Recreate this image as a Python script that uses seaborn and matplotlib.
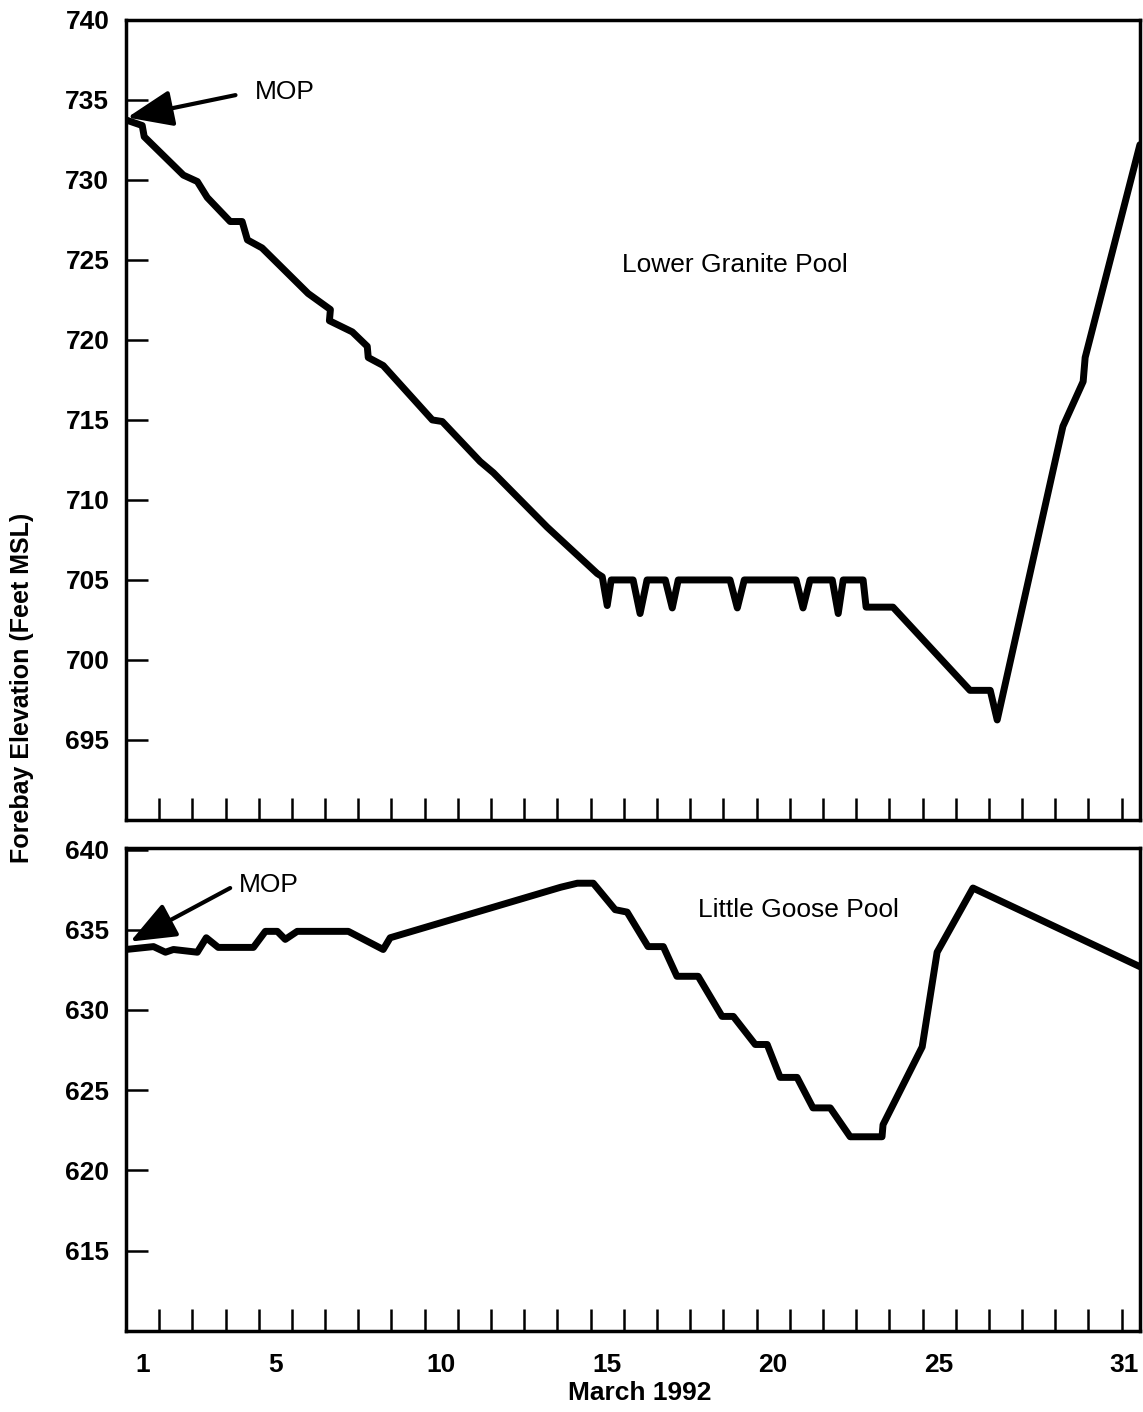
import numpy as np
import pandas as pd
import matplotlib
matplotlib.use('Agg')
import matplotlib.pyplot as plt
import seaborn as sns

# Lower Granite Pool, March 1992 (day of month, forebay elevation ft MSL)
lg_day = [0.5, 0.99, 1.05, 2.23, 2.65, 2.95, 3.64, 4.0, 4.16, 4.6,
          5.99, 6.66, 6.63, 7.32, 7.77, 7.8, 8.25, 9.73, 10.03, 11.17,
          11.57, 13.19, 14.7, 14.85, 15.0, 15.12, 15.78, 15.99, 16.2, 16.75,
          16.96, 17.14, 18.7, 18.92, 19.13, 20.69, 20.9, 21.11, 21.78, 21.96,
          22.11, 22.71, 22.8, 23.61, 25.93, 26.54, 26.75, 28.73, 29.34, 29.4,
          31.05]
lg_elev = [733.75, 733.4, 732.7, 730.3, 729.9, 728.9, 727.4, 727.4, 726.25, 725.75,
           722.9, 721.9, 721.2, 720.5, 719.6, 718.9, 718.4, 715.0, 714.9, 712.4,
           711.7, 708.3, 705.4, 705.2, 703.4, 705.0, 705.0, 702.9, 705.0, 705.0,
           703.25, 705.0, 705.0, 703.25, 705.0, 705.0, 703.25, 705.0, 705.0, 702.9,
           705.0, 705.0, 703.3, 703.3, 698.1, 698.1, 696.25, 714.6, 717.4, 718.9,
           732.2]

# Little Goose Pool
gs_day = [0.5, 1.33, 1.69, 1.93, 2.65, 2.92, 3.28, 4.34, 4.7, 5.06,
          5.3, 5.66, 7.2, 8.25, 8.46, 13.6, 14.1, 14.58, 15.24, 15.6, 16.23,
          16.69, 17.1, 17.74, 18.46, 18.8, 19.46, 19.82, 20.21, 20.72, 21.2,
          21.72, 22.32, 23.28, 23.31, 24.49, 24.94, 26.02, 31.05]
gs_elev = [633.77, 633.95, 633.6, 633.77, 633.6, 634.5, 633.9, 633.9, 634.9, 634.9,
           634.4, 634.9, 634.9, 633.77, 634.5, 637.65, 637.9, 637.9, 636.25, 636.1, 633.95,
           633.95, 632.1, 632.1, 629.6, 629.6, 627.85, 627.85, 625.8, 625.8, 623.9,
           623.9, 622.1, 622.1, 622.85, 627.7, 633.6, 637.6, 632.7]

day_labels = [1, 5, 10, 15, 20, 25, 31]
minor_days = np.arange(1.5, 31, 1.0)

sns.set_style("white")
plt.rcParams['font.family'] = ['Liberation Sans', 'DejaVu Sans']
plt.rcParams['text.color'] = 'black'
plt.rcParams['xtick.color'] = 'black'
plt.rcParams['ytick.color'] = 'black'
plt.rcParams['axes.labelcolor'] = 'black'

fig = plt.figure(figsize=(11.43, 14.12), dpi=100)
ax1 = fig.add_axes([0.1102, 0.4193, 0.8871, 0.5666])
ax2 = fig.add_axes([0.1102, 0.0574, 0.8871, 0.3421])

sns.lineplot(x=lg_day, y=lg_elev, sort=False, estimator=None, color='black', lw=5, ax=ax1)
sns.lineplot(x=gs_day, y=gs_elev, sort=False, estimator=None, color='black', lw=5, ax=ax2)

for ax in (ax1, ax2):
    ax.set_xlim(0.5, 31.05)
    for s in ax.spines.values():
        s.set_color('black')
        s.set_linewidth(2.5)
        s.set_visible(True)
    ax.set_xticks(minor_days, minor=True)
    ax.tick_params(axis='x', which='minor', direction='in', length=16, width=1.8,
                   color='black', bottom=True)
    ax.tick_params(axis='y', which='major', direction='in', length=16, width=1.8,
                   color='black', left=True, labelsize=19, pad=12, labelcolor='black')
    ax.set_xlabel('')
    ax.set_ylabel('')

ax1.set_ylim(690, 740)
ax1.set_yticks(np.arange(695, 741, 5))
ax1.set_xticks([])

ax2.set_ylim(610, 640.1)
ax2.set_yticks(np.arange(615, 641, 5))
ax2.set_xticks(day_labels)
ax2.tick_params(axis='x', which='major', length=0, labelsize=19, pad=16, labelcolor='black')

for ax in (ax1, ax2):
    for lab in ax.get_xticklabels() + ax.get_yticklabels():
        lab.set_fontweight('bold')
ax2.get_xticklabels()[-1].set_horizontalalignment('right')

arrow = dict(arrowstyle='-|>,head_length=1.0,head_width=0.4', mutation_scale=28,
             lw=3, color='black', shrinkA=0, shrinkB=0)
ax1.annotate('', xy=(0.54, 733.9), xytext=(3.8, 735.3), arrowprops=arrow)
ax1.text(5.3, 735.5, 'MOP', fontsize=19, ha='center', va='center', color='black')
ax1.text(18.86, 724.7, 'Lower Granite Pool', fontsize=19, ha='center', va='center', color='black')

ax2.annotate('', xy=(0.63, 634.26), xytext=(3.64, 637.6), arrowprops=arrow)
ax2.text(4.79, 637.8, 'MOP', fontsize=19, ha='center', va='center', color='black')
ax2.text(20.75, 636.26, 'Little Goose Pool', fontsize=19, ha='center', va='center', color='black')

fig.text(22 / 1143, 1 - 688 / 1412, 'Forebay Elevation (Feet MSL)', rotation=90,
         ha='center', va='center', fontsize=18, fontweight='bold', color='black')
fig.text(640 / 1143, 1 - 1393 / 1412, 'March 1992', ha='center', va='center',
         fontsize=19, fontweight='bold', color='black')

fig.savefig('out.png', dpi=100)
